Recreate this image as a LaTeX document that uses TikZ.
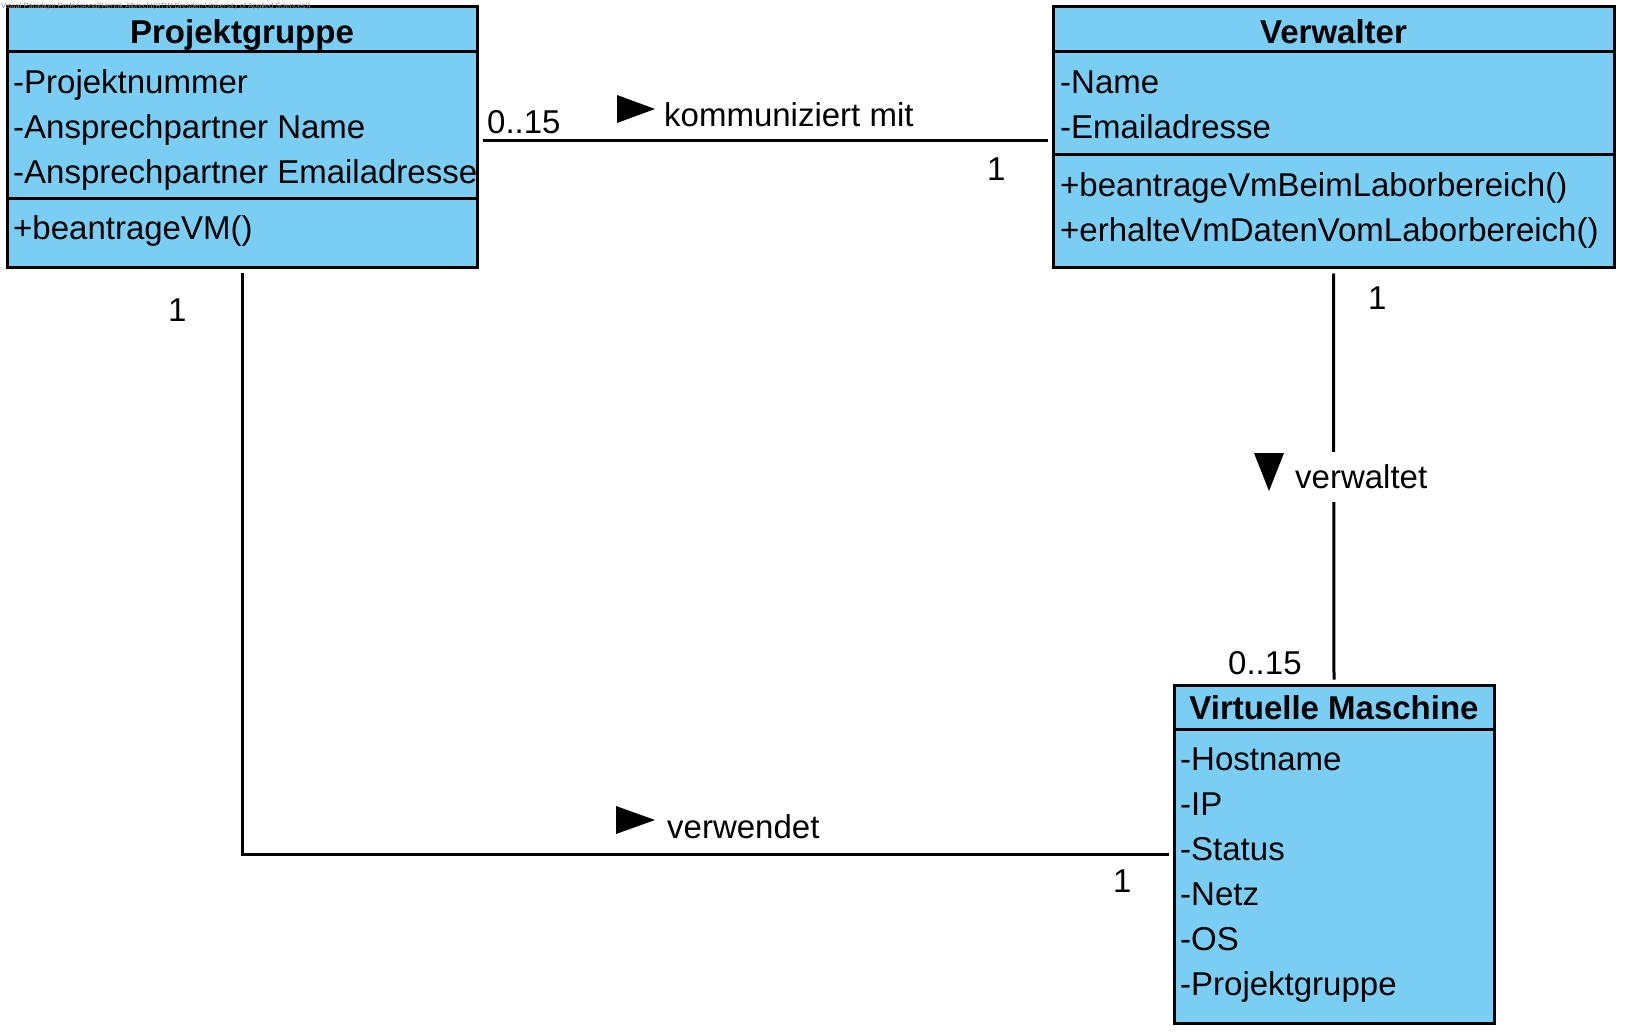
\documentclass[tikz,border=0pt]{standalone}
\usepackage{fontspec}
\setmainfont{Liberation Sans}
\usetikzlibrary{calc}
\definecolor{classblue}{RGB}{122,206,244}
\tikzset{
  classbox/.style={draw=black, fill=classblue, line width=3pt, inner sep=0pt, rectangle},
  sepline/.style={line width=3pt},
  assoc/.style={line width=3pt, shorten >=4pt, shorten <=4pt},
  txt/.style={inner sep=0pt, anchor=base west, yshift=-1.5pt, font=\fontsize{33}{40}\selectfont},
  ttl/.style={inner sep=0pt, anchor=base, yshift=-1.5pt, font=\fontsize{33}{40}\selectfont\bfseries},
  dirmark/.style={fill=black},
}
\begin{document}
\begin{tikzpicture}[x=1pt,y=-1pt]
\useasboundingbox (0,0) rectangle (1626,1035);
\fill[white] (0,0) rectangle (1626,1035);

% class boxes
\node[classbox, minimum width=470, minimum height=261] (pg) at (242,137.5) {};
\node[classbox, minimum width=561, minimum height=261] (vw) at (1333.5,137.5) {};
\node[classbox, minimum width=320, minimum height=338] (vm) at (1334,854) {};

% compartment separators
\draw[sepline] (pg.west |- 0,51.5) -- (pg.east |- 0,51.5);
\draw[sepline] (pg.west |- 0,198.5) -- (pg.east |- 0,198.5);
\draw[sepline] (vw.west |- 0,51.5) -- (vw.east |- 0,51.5);
\draw[sepline] (vw.west |- 0,154.5) -- (vw.east |- 0,154.5);
\draw[sepline] (vm.west |- 0,729) -- (vm.east |- 0,729);

% Projektgruppe
\node[ttl] (pgT) at (242,42) {Projektgruppe};
\node[txt] (pgA1) at (13,92) {-Projektnummer};
\node[txt] (pgA2) at (13,137) {-Ansprechpartner Name};
\node[txt] (pgA3) at (13,182) {-Ansprechpartner Emailadresse};
\node[txt] (pgM1) at (13,238) {+beantrageVM()};

% Verwalter
\node[ttl] (vwT) at (1333.5,42) {Verwalter};
\node[txt] (vwA1) at (1060,92) {-Name};
\node[txt] (vwA2) at (1060,137) {-Emailadresse};
\node[txt] (vwM1) at (1060,195) {+beantrageVmBeimLaborbereich()};
\node[txt] (vwM2) at (1060,240) {+erhalteVmDatenVomLaborbereich()};

% Virtuelle Maschine
\node[ttl] (vmT) at (1334,718) {Virtuelle Maschine};
\node[txt] (vmA1) at (1180,769) {-Hostname};
\node[txt] (vmA2) at (1180,814) {-IP};
\node[txt] (vmA3) at (1180,859) {-Status};
\node[txt] (vmA4) at (1180,904) {-Netz};
\node[txt] (vmA5) at (1180,949) {-OS};
\node[txt] (vmA6) at (1180,994) {-Projektgruppe};

% connectors
\coordinate (yk) at (0,141);
\draw[assoc] (pg.east |- yk) -- (vw.west |- yk);
\draw[assoc] (vw.south) -- (vm.north);
\draw[assoc] (pg.south) |- (vm.west);

% label gap on vertical connector
\fill[white] (1250,452) rectangle (1432,502);

% association labels
\fill[dirmark] (617,95) -- (655,109) -- (617,123) -- cycle;
\node[txt] (lk) at (664,125) {kommuniziert mit};
\node[txt] (m1) at (487,132) {0..15};
\node[txt] (m2) at (987,179) {1};

\fill[dirmark] (1254,453) -- (1284,453) -- (1269,491) -- cycle;
\node[txt] (lv) at (1295,487) {verwaltet};
\node[txt] (m3) at (1368,308) {1};
\node[txt] (m4) at (1228,673) {0..15};

\fill[dirmark] (616,806) -- (655,820) -- (616,834) -- cycle;
\node[txt] (lw) at (667,837) {verwendet};
\node[txt] (m5) at (168,320) {1};
\node[txt] (m6) at (1113,891) {1};

% watermark
\node[inner sep=0pt, anchor=base west, text=black!45, font=\fontsize{7.5}{9}\selectfont] (wm) at (1,9) {Visual Paradigm Professional(Henrik Albrecht(HTW Dresden University of Applied Sciences))};
\end{tikzpicture}
\end{document}
